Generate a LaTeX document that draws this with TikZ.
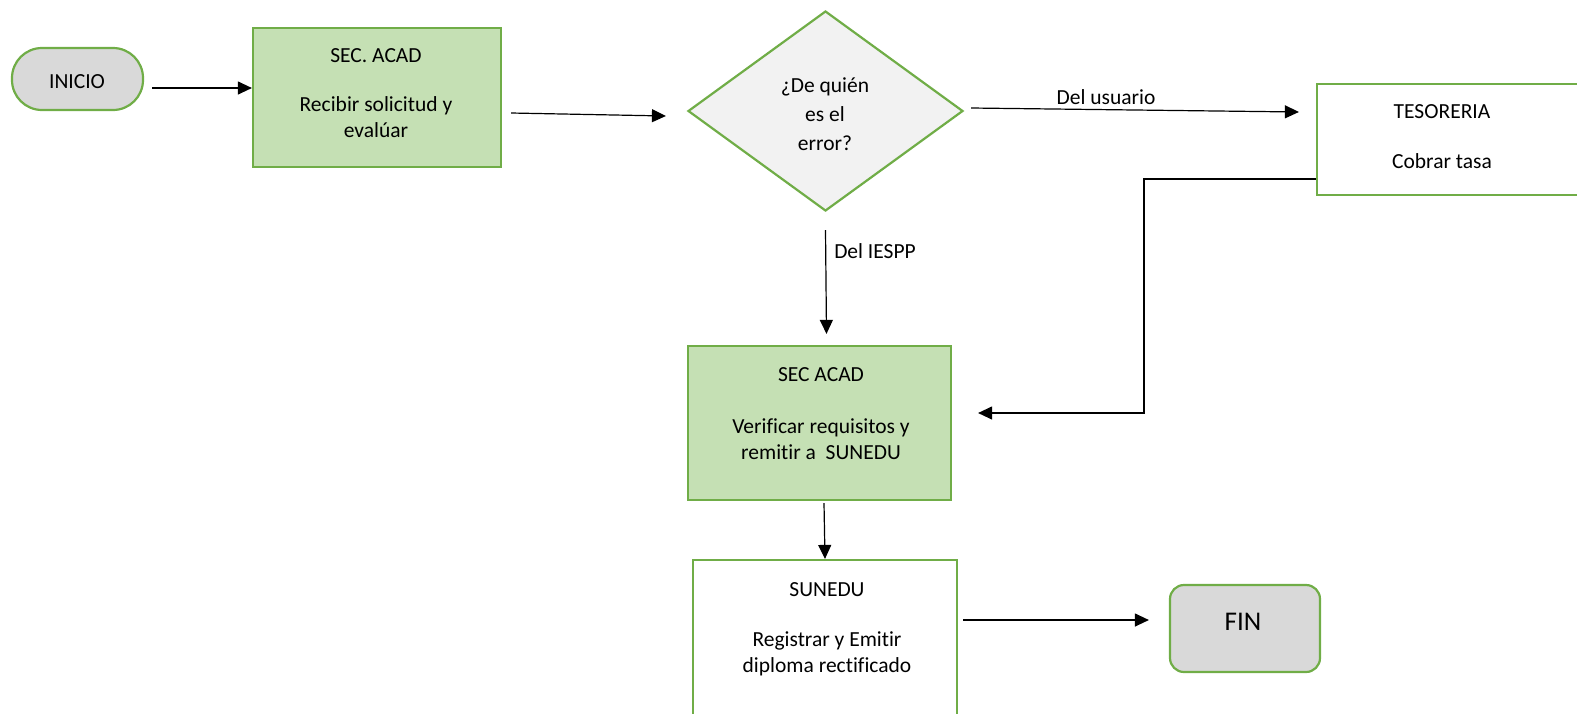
\documentclass[tikz,border=0pt]{standalone}
\usepackage{fontspec}
\setmainfont[Ligatures=NoCommon]{Carlito}
\usetikzlibrary{arrows.meta,calc,shapes.geometric}
\definecolor{flowgreen}{HTML}{70AD47}
\definecolor{procfill}{HTML}{C5E0B4}
\definecolor{termfill}{HTML}{D9D9D9}
\definecolor{decfill}{HTML}{F2F2F2}
\tikzset{
  txt/.style={font=\fontsize{21.5}{26}\selectfont, align=center, inner sep=0pt},
  shapebox/.style={draw=flowgreen, line width=2.2pt, inner sep=0pt},
  proc/.style={shapebox, fill=procfill},
  plainproc/.style={shapebox, fill=white},
  term/.style={shapebox, fill=termfill},
  decision/.style={shapebox, fill=decfill, diamond},
  flow/.style={line width=1.2pt, -{Triangle[length=14pt,width=13pt]}}
}
\begin{document}
\begin{tikzpicture}[x=1pt,y=-1pt]
\useasboundingbox (0,0) rectangle (1577,713);

% shapes
\node[term, rounded corners=30pt, minimum width=131pt, minimum height=62pt] (inicio) at (77.5,79) {};
\node[proc, minimum width=248pt, minimum height=139pt] (acad1) at (377,97.5) {};
\node[decision, minimum width=275pt, minimum height=200pt] (dec) at (825.5,111) {};
\node[plainproc, minimum width=273pt, minimum height=111pt] (tes) at (1453.5,139.5) {};
\node[proc, minimum width=263pt, minimum height=154pt] (acad2) at (819.5,423) {};
\node[plainproc, minimum width=264pt, minimum height=170pt] (sunedu) at (825,645) {};
\node[term, rounded corners=14pt, minimum width=150pt, minimum height=87pt] (fin) at (1245,628.5) {};

% texts inside the shapes
\node[txt] (inicioText) at (77,82) {INICIO};
\node[txt] (acad1Text) at (376,93) {SEC. ACAD\\[23pt]Recibir solicitud y\\evalúar};
\node[txt, font=\fontsize{21.5}{29}\selectfont] (decText) at (825,114) {¿De quién\\es el\\error?};
\node[txt] (tesText) at (1442,137) {TESORERIA\\[24pt]Cobrar tasa};
\node[txt] (acad2Text) at (821,414) {SEC ACAD\\[26pt]Verificar requisitos y\\remitir a \ SUNEDU};
\node[txt] (suneduText) at (827,629) {SUNEDU\\[24pt]Registrar y Emitir\\diploma rectificado};
\node[txt, font=\fontsize{27}{32}\selectfont] (finText) at (1243,622) {FIN};

% branch labels
\node[txt] (lblUsuario) at (1106,97) {Del usuario};
\node[txt] (lblIespp) at (875,251) {Del IESPP};

% connectors
\draw[flow] ($(inicio.east)+(8,9)$) -- ($(acad1.west)+(0,-9.5)$);
\draw[flow] ($(acad1.east)+(9,15.5)$) -- ($(dec.west)+(-21,5)$);
\draw[flow] ($(dec.east)+(7,-3)$) -- ($(tes.west)+(-17,-27.5)$);
\draw[flow] ($(dec.south)+(0,18)$) -- ($(acad2.north)+(7,-11)$);
\draw[flow] ($(tes.west)+(0,39.5)$) -- ++(-172,0) |- ($(acad2.east)+(26,-10)$);
\draw[flow] ($(acad2.south)+(4.5,2)$) -- (sunedu.north);
\draw[flow] ($(sunedu.east)+(5,-25)$) -- ($(fin.west)+(-20,-8.5)$);
\end{tikzpicture}
\end{document}
